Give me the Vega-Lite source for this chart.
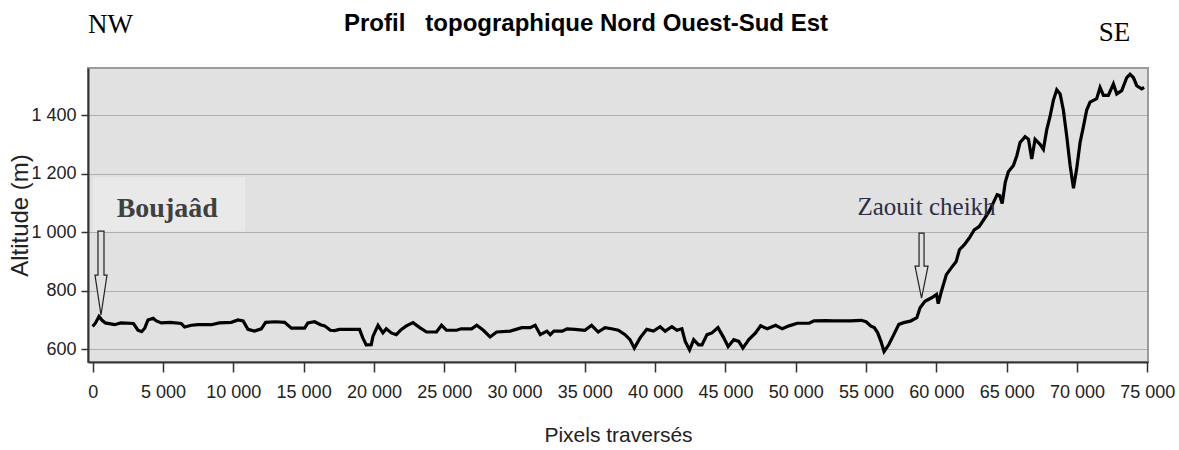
{
  "$schema": "https://vega.github.io/schema/vega-lite/v6.json",
  "width": 1060,
  "height": 294,
  "autosize": {"type": "none"},
  "padding": {"left": 88, "top": 68, "right": 31, "bottom": 88},
  "background": "#ffffff",
  "config": {
    "view": {"fill": "#e1e1e1", "stroke": "#9c9c9c", "strokeWidth": 2},
    "axis": {
      "domainColor": "#333333",
      "domainWidth": 2,
      "tickColor": "#333333",
      "tickWidth": 1.5,
      "labelColor": "#222222",
      "titleColor": "#222222",
      "labelFont": "Liberation Sans, Arial, DejaVu Sans",
      "titleFont": "Liberation Sans, Arial, DejaVu Sans",
      "titleFontWeight": "normal"
    }
  },
  "datasets": {
    "profile": [
      {"x": 0, "alt": 678}, {"x": 200, "alt": 690}, {"x": 450, "alt": 712}, {"x": 650, "alt": 700},
      {"x": 900, "alt": 690}, {"x": 1560, "alt": 684}, {"x": 2000, "alt": 690}, {"x": 2900, "alt": 688},
      {"x": 3220, "alt": 665}, {"x": 3480, "alt": 660}, {"x": 3700, "alt": 672}, {"x": 3930, "alt": 700},
      {"x": 4300, "alt": 706}, {"x": 4530, "alt": 697}, {"x": 4880, "alt": 690}, {"x": 5500, "alt": 692},
      {"x": 6300, "alt": 688}, {"x": 6540, "alt": 676}, {"x": 7020, "alt": 682}, {"x": 7500, "alt": 684},
      {"x": 8440, "alt": 684}, {"x": 9000, "alt": 690}, {"x": 9860, "alt": 692}, {"x": 10330, "alt": 700},
      {"x": 10700, "alt": 697}, {"x": 11040, "alt": 668}, {"x": 11500, "alt": 662}, {"x": 11990, "alt": 670},
      {"x": 12300, "alt": 692}, {"x": 13000, "alt": 694}, {"x": 13650, "alt": 692}, {"x": 14130, "alt": 672},
      {"x": 15070, "alt": 672}, {"x": 15300, "alt": 690}, {"x": 15780, "alt": 694}, {"x": 16200, "alt": 684},
      {"x": 16500, "alt": 680}, {"x": 16900, "alt": 665}, {"x": 17210, "alt": 664}, {"x": 17550, "alt": 668},
      {"x": 18980, "alt": 668}, {"x": 19200, "alt": 640}, {"x": 19450, "alt": 615}, {"x": 19810, "alt": 616},
      {"x": 19930, "alt": 644}, {"x": 20290, "alt": 682}, {"x": 20640, "alt": 656}, {"x": 20880, "alt": 670},
      {"x": 21240, "alt": 656}, {"x": 21590, "alt": 650}, {"x": 21950, "alt": 668}, {"x": 22310, "alt": 680},
      {"x": 22780, "alt": 691}, {"x": 23260, "alt": 674}, {"x": 23740, "alt": 659}, {"x": 24450, "alt": 659},
      {"x": 24810, "alt": 682}, {"x": 25160, "alt": 665}, {"x": 25880, "alt": 665}, {"x": 26200, "alt": 670},
      {"x": 26950, "alt": 670}, {"x": 27310, "alt": 682}, {"x": 27780, "alt": 665}, {"x": 28260, "alt": 642},
      {"x": 28730, "alt": 659}, {"x": 29690, "alt": 662}, {"x": 30520, "alt": 674}, {"x": 31110, "alt": 674},
      {"x": 31470, "alt": 682}, {"x": 31830, "alt": 650}, {"x": 32300, "alt": 662}, {"x": 32540, "alt": 650},
      {"x": 32800, "alt": 662}, {"x": 33400, "alt": 662}, {"x": 33730, "alt": 670}, {"x": 34290, "alt": 668},
      {"x": 35000, "alt": 665}, {"x": 35480, "alt": 682}, {"x": 35950, "alt": 659}, {"x": 36430, "alt": 674},
      {"x": 36900, "alt": 670}, {"x": 37380, "alt": 665}, {"x": 37860, "alt": 650}, {"x": 38210, "alt": 633},
      {"x": 38520, "alt": 604}, {"x": 38930, "alt": 639}, {"x": 39400, "alt": 668}, {"x": 39880, "alt": 662},
      {"x": 40360, "alt": 677}, {"x": 40710, "alt": 662}, {"x": 41190, "alt": 677}, {"x": 41550, "alt": 665},
      {"x": 41900, "alt": 670}, {"x": 42140, "alt": 627}, {"x": 42450, "alt": 598}, {"x": 42740, "alt": 633},
      {"x": 43090, "alt": 615}, {"x": 43330, "alt": 615}, {"x": 43690, "alt": 650}, {"x": 44040, "alt": 656},
      {"x": 44470, "alt": 674}, {"x": 44880, "alt": 639}, {"x": 45190, "alt": 609}, {"x": 45590, "alt": 633},
      {"x": 45950, "alt": 627}, {"x": 46240, "alt": 604}, {"x": 46660, "alt": 633}, {"x": 47140, "alt": 656},
      {"x": 47500, "alt": 680}, {"x": 47970, "alt": 670}, {"x": 48570, "alt": 682}, {"x": 49040, "alt": 670},
      {"x": 49520, "alt": 680}, {"x": 50110, "alt": 689}, {"x": 50950, "alt": 689}, {"x": 51300, "alt": 697},
      {"x": 52140, "alt": 698}, {"x": 52684, "alt": 697}, {"x": 53871, "alt": 697}, {"x": 54650, "alt": 699},
      {"x": 55000, "alt": 694}, {"x": 55350, "alt": 679}, {"x": 55580, "alt": 674}, {"x": 55820, "alt": 657},
      {"x": 56050, "alt": 628}, {"x": 56280, "alt": 592}, {"x": 56630, "alt": 617}, {"x": 56980, "alt": 651},
      {"x": 57330, "alt": 685}, {"x": 57680, "alt": 691}, {"x": 58150, "alt": 696}, {"x": 58610, "alt": 708},
      {"x": 58840, "alt": 742}, {"x": 59190, "alt": 764}, {"x": 59660, "alt": 776}, {"x": 60010, "alt": 787},
      {"x": 60130, "alt": 756}, {"x": 60360, "alt": 798}, {"x": 60710, "alt": 855}, {"x": 61060, "alt": 878},
      {"x": 61410, "alt": 900}, {"x": 61640, "alt": 940}, {"x": 61990, "alt": 957}, {"x": 62340, "alt": 980},
      {"x": 62690, "alt": 1008}, {"x": 63040, "alt": 1019}, {"x": 63390, "alt": 1044}, {"x": 63740, "alt": 1070},
      {"x": 64000, "alt": 1095}, {"x": 64320, "alt": 1128}, {"x": 64500, "alt": 1125}, {"x": 64680, "alt": 1098},
      {"x": 64900, "alt": 1170}, {"x": 65120, "alt": 1206}, {"x": 65480, "alt": 1228}, {"x": 65720, "alt": 1261},
      {"x": 65950, "alt": 1306}, {"x": 66310, "alt": 1326}, {"x": 66550, "alt": 1317}, {"x": 66780, "alt": 1250},
      {"x": 67020, "alt": 1317}, {"x": 67370, "alt": 1300}, {"x": 67610, "alt": 1283}, {"x": 67850, "alt": 1350},
      {"x": 68080, "alt": 1394}, {"x": 68320, "alt": 1450}, {"x": 68560, "alt": 1486}, {"x": 68800, "alt": 1472},
      {"x": 69030, "alt": 1417}, {"x": 69270, "alt": 1328}, {"x": 69510, "alt": 1228}, {"x": 69750, "alt": 1150},
      {"x": 69980, "alt": 1217}, {"x": 70220, "alt": 1306}, {"x": 70460, "alt": 1361}, {"x": 70690, "alt": 1417},
      {"x": 70930, "alt": 1444}, {"x": 71400, "alt": 1456}, {"x": 71640, "alt": 1494}, {"x": 71880, "alt": 1467},
      {"x": 72230, "alt": 1467}, {"x": 72590, "alt": 1506}, {"x": 72830, "alt": 1472}, {"x": 73180, "alt": 1483},
      {"x": 73540, "alt": 1528}, {"x": 73770, "alt": 1539}, {"x": 74010, "alt": 1528}, {"x": 74250, "alt": 1500},
      {"x": 74600, "alt": 1489}, {"x": 74770, "alt": 1494}
    ],
    "labels": [
      {"name": "Boujaâd", "x": 5300, "y": 1052},
      {"name": "Zaouit cheikh", "x": 59300, "y": 1059},
      {"name": "NW", "x": 1266, "y": 1680},
      {"name": "SE", "x": 72670, "y": 1653},
      {"name": "Profil\u00a0\u00a0 topographique Nord Ouest-Sud Est", "x": 35083, "y": 1687}
    ],
    "arrows": [
      {"name": "Boujaâd", "x": 590, "y": 717},
      {"name": "Zaouit cheikh", "x": 58945, "y": 775}
    ],
    "boxes": [
      {"name": "Boujaâd", "x": 20, "x2": 10830, "y": 1002, "y2": 1188}
    ]
  },
  "layer": [
    {
      "data": {"name": "boxes"},
      "mark": {"type": "rect", "fill": "#e9e9e9"},
      "encoding": {
        "x": {"field": "x", "type": "quantitative", "scale": {"domain": [-334, 75050], "nice": false, "zero": false},
          "axis": {
            "values": [0, 5000, 10000, 15000, 20000, 25000, 30000, 35000, 40000, 45000, 50000, 55000, 60000, 65000, 70000, 75000],
            "labelExpr": "replace(format(datum.value, ','), ',', ' ')",
            "grid": false,
            "tickSize": 10,
            "labelPadding": 11,
            "labelFontSize": 18,
            "labelFlush": false,
            "labelOverlap": false,
            "title": "Pixels traversés",
            "titleFontSize": 21,
            "titleBaseline": "alphabetic",
            "titleY": 79
          }},
        "x2": {"field": "x2"},
        "y": {"field": "y", "type": "quantitative", "scale": {"domain": [556.6, 1560.5], "nice": false, "zero": false},
          "axis": {
            "values": [600, 800, 1000, 1200, 1400],
            "labelExpr": "replace(format(datum.value, ','), ',', ' ')",
            "grid": true,
            "gridDash": [1, 1],
            "gridColor": "#7a7a7a",
            "gridWidth": 1.2,
            "tickSize": 7,
            "labelPadding": 5,
            "labelFontSize": 18,
            "labelFlush": false,
            "title": "Altitude (m)",
            "titleFontSize": 24,
            "titleAngle": 270,
            "titleBaseline": "alphabetic",
            "titleAlign": "center",
            "titleX": -61,
            "titleY": 147
          }},
        "y2": {"field": "y2"}
      }
    },
    {
      "data": {"name": "profile"},
      "mark": {"type": "line", "color": "#000000", "strokeWidth": 3.2, "strokeJoin": "miter"},
      "encoding": {
        "x": {"field": "x", "type": "quantitative"},
        "y": {"field": "alt", "type": "quantitative"}
      }
    },
    {
      "data": {"name": "arrows"},
      "mark": {"type": "point", "filled": true, "fill": "#e1e1e1", "stroke": "#222222", "strokeWidth": 1.2, "opacity": 1, "size": 4},
      "encoding": {
        "x": {"field": "x", "type": "quantitative"},
        "y": {"field": "y", "type": "quantitative"},
        "shape": {"field": "name", "type": "nominal", "legend": null,
          "scale": {"domain": ["Boujaâd", "Zaouit cheikh"],
            "range": ["M-3,-84L3,-84L3,-40L6,-40L0,0L-6,-40L-3,-40Z", "M-2.5,-65L2.5,-65L2.5,-32L6.5,-32L0,0L-6.5,-32L-2.5,-32Z"]}}
      }
    },
    {
      "data": {"name": "labels"},
      "transform": [{"filter": "datum.name == 'Boujaâd'"}],
      "mark": {"type": "text", "font": "Liberation Serif, Times New Roman, DejaVu Serif", "fontSize": 28, "fontWeight": "bold", "color": "#404040", "align": "center", "baseline": "alphabetic"},
      "encoding": {
        "x": {"field": "x", "type": "quantitative"},
        "y": {"field": "y", "type": "quantitative"},
        "text": {"field": "name"}
      }
    },
    {
      "data": {"name": "labels"},
      "transform": [{"filter": "datum.name == 'Zaouit cheikh'"}],
      "mark": {"type": "text", "font": "Liberation Serif, Times New Roman, DejaVu Serif", "fontSize": 25, "color": "#2d2d45", "align": "center", "baseline": "alphabetic"},
      "encoding": {
        "x": {"field": "x", "type": "quantitative"},
        "y": {"field": "y", "type": "quantitative"},
        "text": {"field": "name"}
      }
    },
    {
      "data": {"name": "labels"},
      "transform": [{"filter": "datum.name == 'NW' || datum.name == 'SE'"}],
      "mark": {"type": "text", "font": "Liberation Serif, Times New Roman, DejaVu Serif", "fontSize": 27, "color": "#000000", "align": "center", "baseline": "alphabetic"},
      "encoding": {
        "x": {"field": "x", "type": "quantitative"},
        "y": {"field": "y", "type": "quantitative"},
        "text": {"field": "name"}
      }
    },
    {
      "data": {"name": "labels"},
      "transform": [{"filter": "indexof(datum.name, 'Profil') == 0"}],
      "mark": {"type": "text", "font": "Liberation Sans, Arial, DejaVu Sans", "fontSize": 24, "fontWeight": "bold", "color": "#000000", "align": "center", "baseline": "alphabetic"},
      "encoding": {
        "x": {"field": "x", "type": "quantitative"},
        "y": {"field": "y", "type": "quantitative"},
        "text": {"field": "name"}
      }
    }
  ]
}
